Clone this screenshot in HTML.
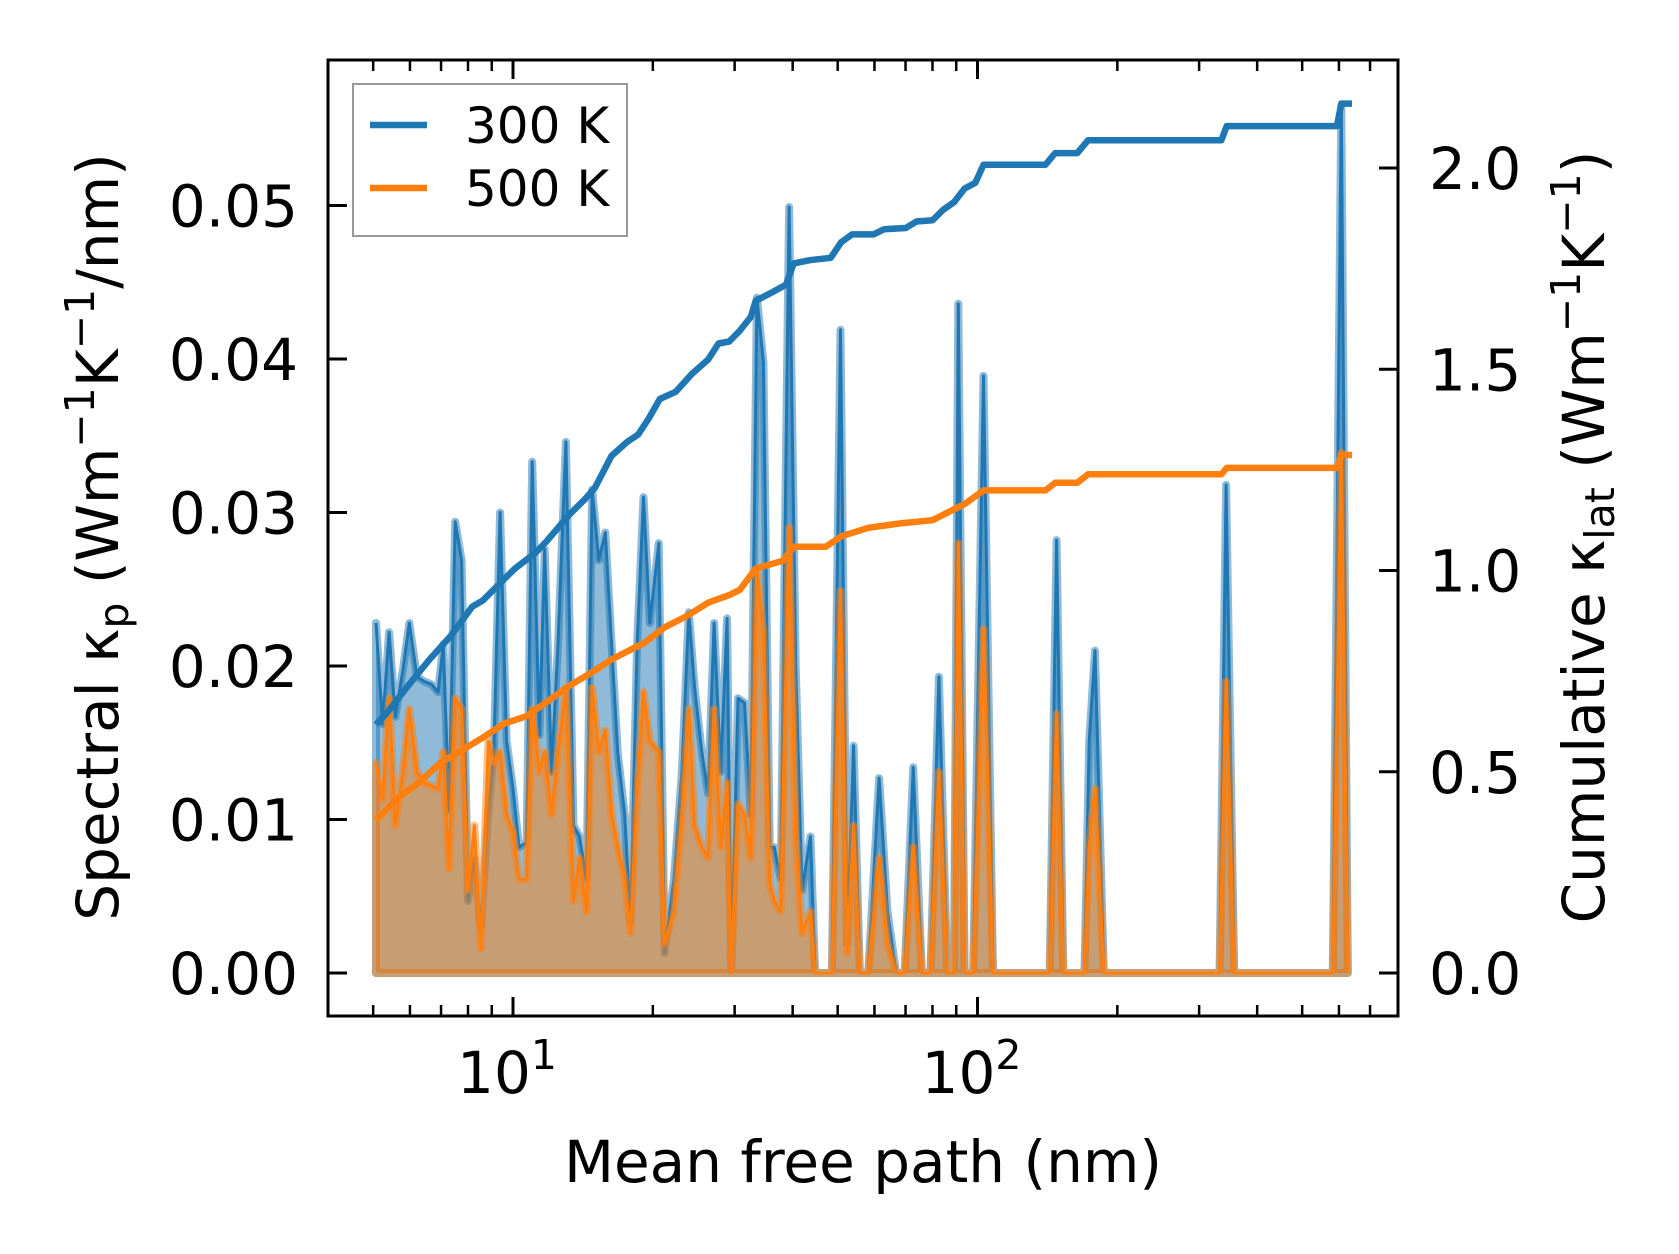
<!DOCTYPE html>
<html><head><meta charset="utf-8"><style>
html,body{margin:0;padding:0;background:#fff;}
svg{display:block;font-family:"DejaVu Sans","Liberation Sans",sans-serif;}
</style></head><body>
<svg id="chart" width="1679" height="1254" viewBox="0 0 1679 1254" xmlns="http://www.w3.org/2000/svg">
<g id="plot"></g>
<g id="axes"></g>
</svg>
<script>
const mfp = [5.07,5.24,5.41,5.58,5.79,5.98,6.21,6.44,6.68,6.90,7.08,7.28,7.51,7.75,8.00,8.26,8.53,8.85,9.09,9.38,9.69,10.0,10.3,10.7,11.0,11.4,11.7,12.1,12.5,13.0,13.5,13.9,14.4,14.8,15.3,15.8,16.3,16.8,17.4,17.9,18.5,19.1,19.7,20.6,21.2,22.2,23.1,23.9,24.6,25.5,26.3,27.1,28.0,28.9,29.5,30.5,31.5,32.5,33.5,34.6,35.7,36.5,37.7,39.3,40.6,41.9,43.7,44.7,46.1,48.6,50.7,52.4,54.1,55.8,58.2,61.4,64.0,66.8,69.7,72.7,75.9,79.2,82.6,86.1,89.0,90.9,93.8,97.9,103,108,143,148,153,170,174,179,187,332,343,357,582,607,627];
const spec300 = [0.0228,0.0162,0.0222,0.0167,0.0197,0.0228,0.0193,0.0190,0.0188,0.0183,0.0214,0.0106,0.0294,0.0269,0.0047,0.0075,0.0030,0.0106,0.0144,0.0300,0.0151,0.0120,0.0082,0.0085,0.0333,0.0155,0.0276,0.0131,0.0214,0.0346,0.0096,0.0089,0.0061,0.0315,0.0269,0.0287,0.0214,0.0144,0.0103,0.0033,0.0214,0.0310,0.0228,0.0280,0.0013,0.0061,0.0131,0.0235,0.0186,0.0144,0.0117,0.0228,0.0131,0.0231,0,0.0179,0.0176,0.0103,0.0440,0.0398,0.0082,0.0082,0.0061,0.0499,0.0200,0.0054,0.0089,0,0,0,0.0419,0.0019,0.0148,0,0,0.0127,0.0040,0,0,0.0134,0,0,0.0193,0,0,0.0436,0,0,0.0389,0,0,0.0282,0,0,0.0151,0.0210,0,0,0.0318,0,0,0.0565,0];
const spec500 = [0.0137,0.0113,0.0179,0.0096,0.0131,0.0172,0.0131,0.0124,0.0122,0.0120,0.0144,0.0068,0.0179,0.0172,0.0054,0.0096,0.0016,0.0151,0.0137,0.0144,0.0103,0.0092,0.0061,0.0061,0.0172,0.0131,0.0144,0.0103,0.0144,0.0186,0.0047,0.0075,0.0040,0.0186,0.0144,0.0158,0.0103,0.0082,0.0061,0.0026,0.0117,0.0183,0.0151,0.0144,0.0019,0.0040,0.0103,0.0172,0.0096,0.0082,0.0075,0.0172,0.0082,0.0124,0,0.0110,0.0103,0.0075,0.0263,0.0221,0.0058,0.0047,0.0040,0.0290,0.0089,0.0026,0.0040,0,0,0,0.0249,0.0013,0.0096,0,0,0.0075,0.0019,0,0,0.0082,0,0,0.0131,0,0,0.0280,0,0,0.0224,0,0,0.0169,0,0,0.0082,0.0120,0,0,0.0190,0,0,0.0339,0];
const cumMfp300 = [5.07,5.35,5.94,6.61,7.35,8.17,8.62,9.58,10.1,11.2,11.8,13.2,14.3,15.0,16.3,17.6,18.6,19.6,20.7,22.4,24.3,26.3,27.7,29.2,30.8,32.5,33.3,36.1,38.7,40.2,43.5,48.3,50.9,53.7,59.7,63.0,70.1,73.9,80.0,84.3,89.0,93.8,98.9,103,140,147,164,173,335,344,594,607,640];
const cum300 = [0.617,0.646,0.713,0.779,0.838,0.910,0.926,0.979,1.005,1.045,1.072,1.138,1.178,1.205,1.285,1.319,1.338,1.378,1.426,1.444,1.489,1.524,1.564,1.569,1.596,1.630,1.670,1.691,1.710,1.763,1.771,1.777,1.816,1.835,1.835,1.848,1.851,1.867,1.870,1.896,1.915,1.949,1.963,2.008,2.008,2.037,2.037,2.069,2.069,2.104,2.104,2.160,2.160];
const cumMfp500 = [5.07,5.64,6.27,6.96,7.75,8.62,9.58,10.7,11.8,13.2,14.7,16.3,18.1,19.1,21.2,23.6,26.3,29.2,30.8,33.3,38.1,40.2,47.1,50.9,58.2,68.2,80.0,89.0,93.8,103,140,147,164,173,335,344,594,607,640];
const cum500 = [0.380,0.434,0.473,0.521,0.553,0.585,0.620,0.638,0.673,0.713,0.745,0.779,0.806,0.819,0.859,0.886,0.920,0.939,0.952,1.005,1.024,1.059,1.059,1.085,1.106,1.117,1.125,1.152,1.165,1.199,1.199,1.218,1.218,1.239,1.239,1.255,1.255,1.287,1.287];
const leftTicks = [0,0.01,0.02,0.03,0.04,0.05];
const leftTickLabels = ["0.00","0.01","0.02","0.03","0.04","0.05"];
const rightTicks = [0,0.5,1.0,1.5,2.0];
const rightTickLabels = ["0.0","0.5","1.0","1.5","2.0"];
const xMajor = [10,100];
const xMajorExp = ["1","2"];
const xMinor = [5,6,7,8,9,20,30,40,50,60,70,80,90,200,300,400,500,600,700,800];

const L=328,R=1398,T=60,B=1016;
const X = v => 513 + 464.5*(Math.log10(v)-1);
const YL = v => 973 - v*15350;
const YR = v => 973 - v*402.5;
const NS="http://www.w3.org/2000/svg";
const plot=document.getElementById('plot'), axes=document.getElementById('axes');
function mk(tag, attrs, parent){const e=document.createElementNS(NS,tag);for(const k in attrs)e.setAttribute(k,attrs[k]);parent.appendChild(e);return e;}

function spectral(vals, color, fill, name){
  let pts = mfp.map((m,i)=>X(m).toFixed(1)+','+YL(vals[i]).toFixed(1));
  let poly = pts.join(' ')+' '+X(mfp[mfp.length-1]).toFixed(1)+','+YL(0)+' '+X(mfp[0]).toFixed(1)+','+YL(0);
  const a=mk('polygon',{points:poly,fill:fill,stroke:color,'stroke-opacity':0.5,'stroke-width':8,'stroke-linejoin':'round'},plot);
  
  
  const l=mk('polyline',{points:pts.join(' '),fill:'none',stroke:color,'stroke-width':3,'stroke-linejoin':'round'},plot);
  
  
}
spectral(spec300,'#1f77b4','rgba(31,119,180,0.5)','spectral-300k');
spectral(spec500,'#ff7f0e','rgba(255,127,14,0.5)','spectral-500k');

function cum(xs, ys, color, name){
  const pts = xs.map((m,i)=>X(m).toFixed(1)+','+YR(ys[i]).toFixed(1)).join(' ');
  const l=mk('polyline',{points:pts,fill:'none',stroke:color,'stroke-width':6.5,'stroke-linejoin':'round'},plot);
  
  
}
cum(cumMfp300,cum300,'#1f77b4','cumulative-300k');
cum(cumMfp500,cum500,'#ff7f0e','cumulative-500k');

const fr=mk('rect',{x:L,y:T,width:R-L,height:B-T,fill:'none',stroke:'#000','stroke-width':3},axes);



leftTicks.forEach((v,i)=>{
  const y=YL(v);
  const t=mk('line',{x1:L,x2:L+19,y1:y,y2:y,stroke:'#000','stroke-width':3},axes);
  
  
  const tx=mk('text',{x:298,y:y+21,'text-anchor':'end','font-size':58,fill:'#000'},axes);
  tx.textContent=leftTickLabels[i];
  
  
});
rightTicks.forEach((v,i)=>{
  const y=YR(v);
  const t=mk('line',{x1:R-19,x2:R,y1:y,y2:y,stroke:'#000','stroke-width':3},axes);
  
  
  const tx=mk('text',{x:1429,y:y+21,'text-anchor':'start','font-size':58,fill:'#000'},axes);
  tx.textContent=rightTickLabels[i];
  
  
});
xMajor.forEach((v,i)=>{
  const x=X(v);
  [[B,B-19],[T,T+19]].forEach(p=>{
    const t=mk('line',{x1:x,x2:x,y1:p[0],y2:p[1],stroke:'#000','stroke-width':3},axes);
    
    
  });
  const tx=mk('text',{x:x-6,y:1093,'text-anchor':'middle','font-size':58,fill:'#000'},axes);
  
  
  tx.appendChild(document.createTextNode('10'));
  const s=mk('tspan',{'font-size':41,dy:-24},tx);
  s.textContent=xMajorExp[i];
});
xMinor.forEach(v=>{
  const x=X(v);
  if(x<=L+2||x>=R-2) return;
  [[B,B-11],[T,T+11]].forEach(p=>{
    const t=mk('line',{x1:x,x2:x,y1:p[0],y2:p[1],stroke:'#000','stroke-width':2.5},axes);
    
    
  });
});
</script>
<svg style="position:absolute;left:0;top:0" width="1679" height="1254" xmlns="http://www.w3.org/2000/svg" font-family="DejaVu Sans, Liberation Sans, sans-serif">
  <text x="863" y="1182" text-anchor="middle" font-size="58">Mean free path (nm)</text>
  <text transform="translate(118,537) rotate(-90)" text-anchor="middle" font-size="58">Spectral κ<tspan font-size="41" dy="10">p</tspan><tspan dy="-10"> (Wm</tspan><tspan font-size="41" dy="-24">−1</tspan><tspan dy="24">K</tspan><tspan font-size="41" dy="-24">−1</tspan><tspan dy="24">/nm)</tspan></text>
  <text transform="translate(1604,537) rotate(-90)" text-anchor="middle" font-size="58">Cumulative κ<tspan font-size="41" dy="10">lat</tspan><tspan dy="-10"> (Wm</tspan><tspan font-size="41" dy="-24">−1</tspan><tspan dy="24">K</tspan><tspan font-size="41" dy="-24">−1</tspan><tspan dy="24">)</tspan></text>
  <g>
    <rect x="353" y="84" width="274" height="152" fill="#fff" fill-opacity="0.8" stroke="#999" stroke-width="2"/>
    <line x1="370" x2="427" y1="125" y2="125" stroke="#1f77b4" stroke-width="6.5"/>
    <text x="465" y="143" font-size="50">300 K</text>
    <line x1="370" x2="427" y1="188" y2="188" stroke="#ff7f0e" stroke-width="6.5"/>
    <text x="465" y="206" font-size="50">500 K</text>
  </g>
</svg>
</body></html>
